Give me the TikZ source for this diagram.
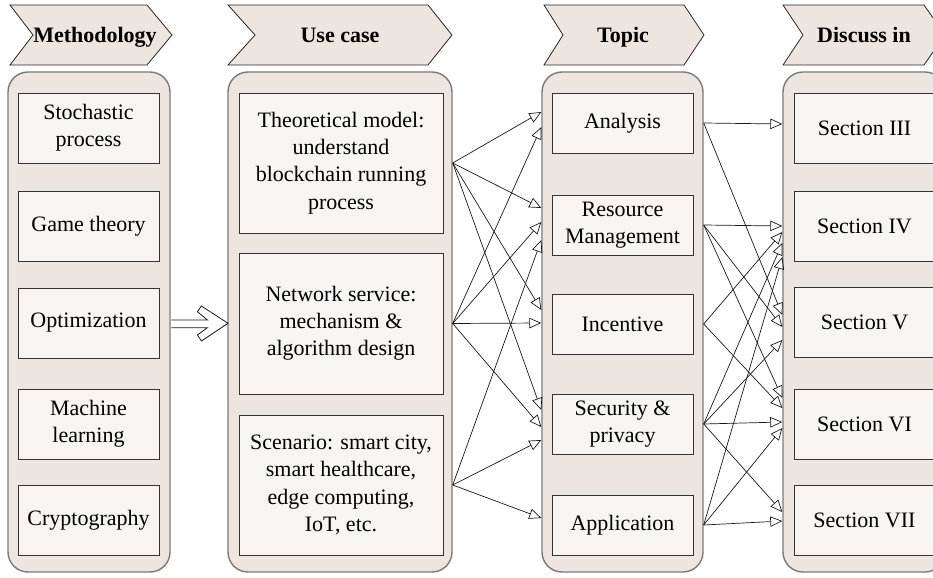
\documentclass[tikz,border=0pt]{standalone}
\usepackage{fontspec}
\setmainfont{Liberation Serif}
\usetikzlibrary{arrows.meta,calc}
\definecolor{panel}{HTML}{EDE5DF}
\definecolor{innerfill}{HTML}{F7F4F1}
\definecolor{rim}{HTML}{7A7A7A}
\begin{document}
\begin{tikzpicture}[x=1bp,y=-1bp,
  font=\fontsize{22bp}{27.2bp}\selectfont,
  cont/.style={draw=rim, line width=1.4bp, fill=panel, rounded corners=20bp,
    minimum width=#1, minimum height=500bp, inner sep=0pt},
  ibox/.style={draw=black!80, line width=0.9bp, fill=innerfill, align=center, inner sep=0pt},
  mbox/.style={ibox, minimum width=141bp, minimum height=70bp},
  ubox/.style={ibox, minimum width=204bp, minimum height=140bp},
  tbox/.style={ibox, minimum width=141bp, minimum height=60bp},
  chev/.style={draw=black!85, line width=0.8bp, fill=panel},
  htext/.style={font=\fontsize{22bp}{26bp}\selectfont\bfseries, inner sep=0pt, anchor=base},
  conn/.style={draw=black!90, line width=0.7bp, -{Triangle[open, length=12bp, width=10.5bp]}},
  bigarrow/.style={draw=black!90, line width=0.8bp, line join=miter}
]
\useasboundingbox (0,0) rectangle (933,578);

% header chevrons
\draw[chev] (10,5) -- (147,5) -- (172,35) -- (147,65) -- (10,65) -- (33,35) -- cycle;
\node[htext] (hM) at (95,43) {Methodology};
\draw[chev] (228,5) -- (428,5) -- (452,35) -- (428,65) -- (228,65) -- (255,35) -- cycle;
\node[htext] (hU) at (340,43) {Use case};
\draw[chev] (544,5) -- (684,5) -- (704,35) -- (684,65) -- (544,65) -- (563,35) -- cycle;
\node[htext] (hT) at (623,43) {Topic};
\draw[chev] (783,5) -- (924,5) -- (945,35) -- (924,65) -- (783,65) -- (803,35) -- cycle;
\node[htext] (hD) at (864,43) {Discuss in};

% containers
\node[cont=162bp] (M) at (89,322) {};
\node[cont=224bp] (U) at (340,322) {};
\node[cont=161bp] (P) at (622.5,322) {};
\node[cont=162bp] (D) at (864,322) {};

% methodology
\node[mbox] (m1) at (88.5,128) {Stochastic\\process};
\node[mbox] (m2) at (88.5,226) {Game theory};
\node[mbox] (m3) at (88.5,323) {Optimization};
\node[mbox] (m4) at (88.5,424) {Machine\\learning};
\node[mbox] (m5) at (88.5,520) {Cryptography};

% use cases
\node[ubox] (uT) at (341,163) {Theoretical model:\\understand\\blockchain running\\process};
\node[ubox, minimum height=141bp] (uN) at (341,323.5) {Network service:\\mechanism \&\\algorithm design};
\node[ubox] (uS) at (341,485) {Scenario: smart city,\\smart healthcare,\\edge computing,\\IoT, etc.};

% topics
\node[tbox] (pA) at (622.5,123) {Analysis};
\node[tbox] (pR) at (622.5,225) {Resource\\Management};
\node[tbox] (pI) at (622.5,324) {Incentive};
\node[tbox] (pS) at (622.5,424) {Security \&\\privacy};
\node[tbox] (pP) at (622.5,525) {Application};

% sections
\node[mbox] (d3) at (864.5,128) {Section III};
\node[mbox] (d4) at (864.5,226) {Section IV};
\node[mbox] (d5) at (864.5,322) {Section V};
\node[mbox] (d6) at (864.5,424) {Section VI};
\node[mbox] (d7) at (864.5,520) {Section VII};

% big arrow methodology -> use case
\begin{scope}[shift={(M.east)}]
  \path[fill=white] (0.8,-2) -- (36.7,-2) -- (26.7,-10.3) -- (30.7,-16) -- (57.3,1.3)
    -- (30.7,19) -- (26.7,13) -- (36.7,5.7) -- (0.8,5.7) -- cycle;
  \draw[bigarrow] (0.7,-2) -- (36.7,-2) -- (26.7,-10.3) -- (30.7,-16) -- (57.3,1.3)
    -- (30.7,19) -- (26.7,13) -- (36.7,5.7) -- (0.7,5.7);
\end{scope}

% use case -> topic
\foreach \s/\t/\o in {uT/pA/-11, uN/pA/4,
                      uT/pR/-17, uN/pR/-3, uS/pR/15,
                      uT/pI/-14, uN/pI/-1,
                      uT/pS/-14, uN/pS/3, uS/pS/16,
                      uS/pP/-7}
  \draw[conn] (U.east |- \s.center) -- ($(P.west |- \t.center)+(0,\o)$);

% topic -> section
\foreach \s/\t/\o in {pA/d3/-4,
                      pR/d4/0, pI/d4/6, pS/d4/17, pP/d4/31,
                      pA/d5/-7, pR/d5/5, pS/d5/18,
                      pR/d6/-26, pI/d6/-16, pS/d6/-2, pP/d6/4,
                      pS/d7/-8, pP/d7/1}
  \draw[conn] (P.east |- \s.center) -- ($(D.west |- \t.center)+(0,\o)$);
\end{tikzpicture}
\end{document}
